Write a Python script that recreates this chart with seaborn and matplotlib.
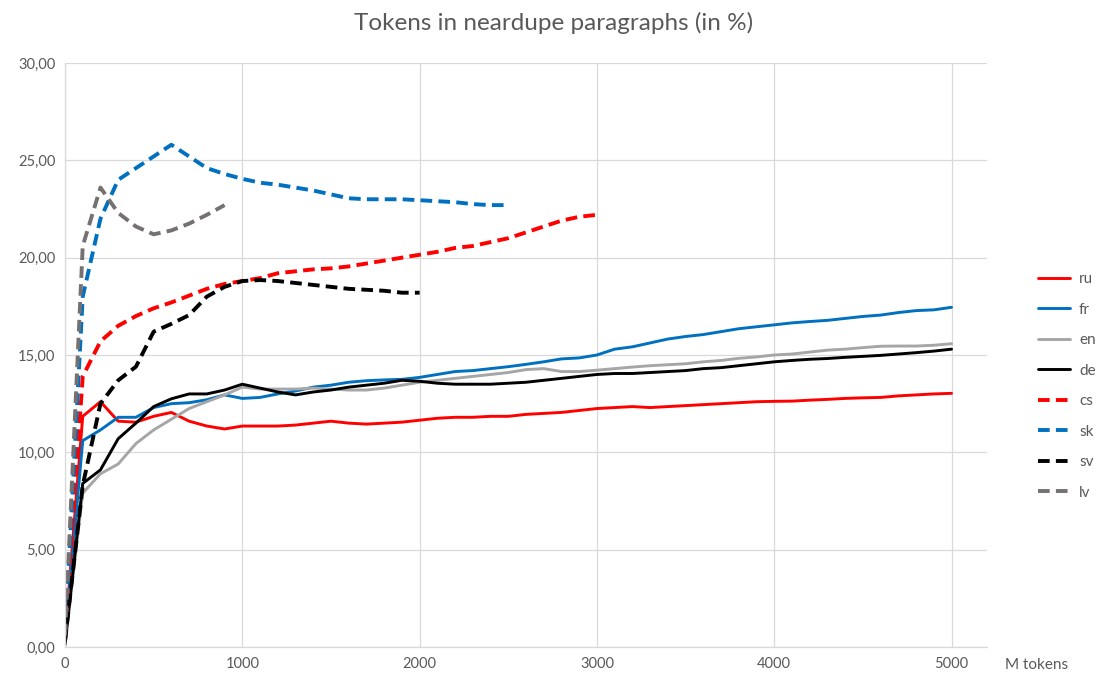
import matplotlib
matplotlib.use("Agg")
import matplotlib.pyplot as plt
from matplotlib.ticker import FuncFormatter
import seaborn as sns
import pandas as pd

# x positions: million tokens
tokens_long = list(range(0, 5001, 100))

ru = [0.5, 11.85, 12.6, 11.6, 11.55, 11.85, 12.05, 11.6, 11.35, 11.2,
      11.35, 11.35, 11.35, 11.4, 11.5, 11.6, 11.5, 11.45, 11.5, 11.55,
      11.65, 11.75, 11.8, 11.8, 11.85, 11.85, 11.95, 12.0, 12.05, 12.15,
      12.25, 12.3, 12.35, 12.3, 12.35, 12.4, 12.45, 12.5, 12.55, 12.6,
      12.62, 12.63, 12.68, 12.72, 12.77, 12.8, 12.82, 12.9, 12.95, 13.0, 13.03]
fr = [0.4, 10.6, 11.15, 11.8, 11.8, 12.3, 12.5, 12.55, 12.7, 12.95,
      12.77, 12.82, 13.0, 13.15, 13.35, 13.45, 13.6, 13.68, 13.72, 13.75,
      13.85, 14.0, 14.15, 14.2, 14.3, 14.4, 14.52, 14.65, 14.8, 14.85,
      15.0, 15.3, 15.42, 15.62, 15.82, 15.95, 16.05, 16.2, 16.35, 16.45,
      16.55, 16.65, 16.72, 16.78, 16.88, 16.98, 17.05, 17.18, 17.28, 17.32, 17.45]
en = [0.3, 7.9, 8.9, 9.4, 10.45, 11.15, 11.7, 12.25, 12.6, 12.95,
      13.35, 13.25, 13.25, 13.25, 13.3, 13.25, 13.2, 13.2, 13.3, 13.45,
      13.6, 13.7, 13.8, 13.9, 14.0, 14.1, 14.25, 14.3, 14.15, 14.15,
      14.22, 14.3, 14.38, 14.45, 14.5, 14.55, 14.65, 14.72, 14.83, 14.9,
      15.0, 15.05, 15.15, 15.25, 15.3, 15.38, 15.45, 15.46, 15.46, 15.5, 15.58]
de = [0.1, 8.4, 9.1, 10.7, 11.5, 12.35, 12.75, 13.0, 13.0, 13.2,
      13.5, 13.3, 13.1, 12.95, 13.1, 13.2, 13.35, 13.45, 13.55, 13.7,
      13.65, 13.55, 13.5, 13.5, 13.5, 13.55, 13.6, 13.7, 13.8, 13.9,
      14.0, 14.05, 14.05, 14.1, 14.15, 14.2, 14.3, 14.35, 14.45, 14.55,
      14.65, 14.72, 14.78, 14.82, 14.88, 14.93, 14.98, 15.05, 15.12, 15.2, 15.3]

cs = [0.5, 13.9, 15.7, 16.5, 17.0, 17.4, 17.7, 18.05, 18.4, 18.65,
      18.8, 18.95, 19.2, 19.3, 19.4, 19.45, 19.55, 19.7, 19.85, 20.0,
      20.15, 20.3, 20.5, 20.6, 20.8, 21.0, 21.3, 21.6, 21.9, 22.1, 22.2]
sk = [0.5, 18.0, 22.0, 24.0, 24.6, 25.2, 25.8, 25.2, 24.6, 24.3,
      24.05, 23.85, 23.75, 23.6, 23.45, 23.25, 23.05, 23.0, 23.0, 23.0,
      22.95, 22.9, 22.85, 22.75, 22.7, 22.7]
sv = [0.3, 8.3, 12.5, 13.7, 14.4, 16.2, 16.6, 17.05, 18.0, 18.5,
      18.8, 18.85, 18.8, 18.7, 18.6, 18.5, 18.4, 18.35, 18.3, 18.2, 18.2]
lv = [0.6, 20.6, 23.6, 22.3, 21.6, 21.2, 21.4, 21.75, 22.2, 22.7]

languages = ["ru", "fr", "en", "de", "cs", "sk", "sv", "lv"]
values = {"ru": ru, "fr": fr, "en": en, "de": de,
          "cs": cs, "sk": sk, "sv": sv, "lv": lv}
colors = {"ru": "#FF0000", "fr": "#0070C0", "en": "#A6A6A6", "de": "#000000",
          "cs": "#FF0000", "sk": "#0070C0", "sv": "#000000", "lv": "#767171"}
dashed = {"cs", "sk", "sv", "lv"}

sns.set_style("white")
plt.rcParams["font.family"] = ["Lato", "DejaVu Sans"]
text_color = "#595959"
grid_color = "#D9D9D9"

fig = plt.figure(figsize=(11.07, 6.99), dpi=100)
ax = fig.add_axes([65 / 1107, 52 / 699, 922 / 1107, 584 / 699])

for lang in languages:
    vals = values[lang]
    df = pd.DataFrame({"tokens": tokens_long[:len(vals)], "pct": vals})
    if lang in dashed:
        sns.lineplot(data=df, x="tokens", y="pct", ax=ax, color=colors[lang],
                     linewidth=2.8, label=lang, dashes=False,
                     linestyle=(0, (3, 1.6)))
    else:
        sns.lineplot(data=df, x="tokens", y="pct", ax=ax, color=colors[lang],
                     linewidth=2.1, label=lang)

ax.set_xlim(0, 5200)
ax.set_ylim(0, 30)
ax.set_xticks(range(0, 5001, 1000))
ax.set_yticks(range(0, 31, 5))
ax.yaxis.set_major_formatter(FuncFormatter(lambda v, p: f"{v:.2f}".replace(".", ",")))
ax.grid(True, color=grid_color, linewidth=0.9)
ax.set_axisbelow(True)
for side in ["top", "right"]:
    ax.spines[side].set_visible(False)
for side in ["left", "bottom"]:
    ax.spines[side].set_color(grid_color)
    ax.spines[side].set_linewidth(0.9)
ax.tick_params(length=0, labelsize=10.5, colors=text_color, pad=7)
ax.set_xlabel("")
ax.set_ylabel("")

handles, labels = ax.get_legend_handles_labels()
ax.get_legend().remove()
fig.legend(handles, labels, loc="center left", bbox_to_anchor=(1024 / 1107, 1 - 386 / 699),
           frameon=False, fontsize=11, labelcolor=text_color, handlelength=2.1,
           labelspacing=1.08, handletextpad=0.6)

fig.text(1005 / 1107, 1 - 665 / 699, "M tokens", fontsize=11, color=text_color, va="center")
fig.suptitle("Tokens in neardupe paragraphs (in %)", y=1 - 23 / 699, va="center",
             fontsize=17.5, color=text_color)

fig.savefig("out.png", dpi=100)
